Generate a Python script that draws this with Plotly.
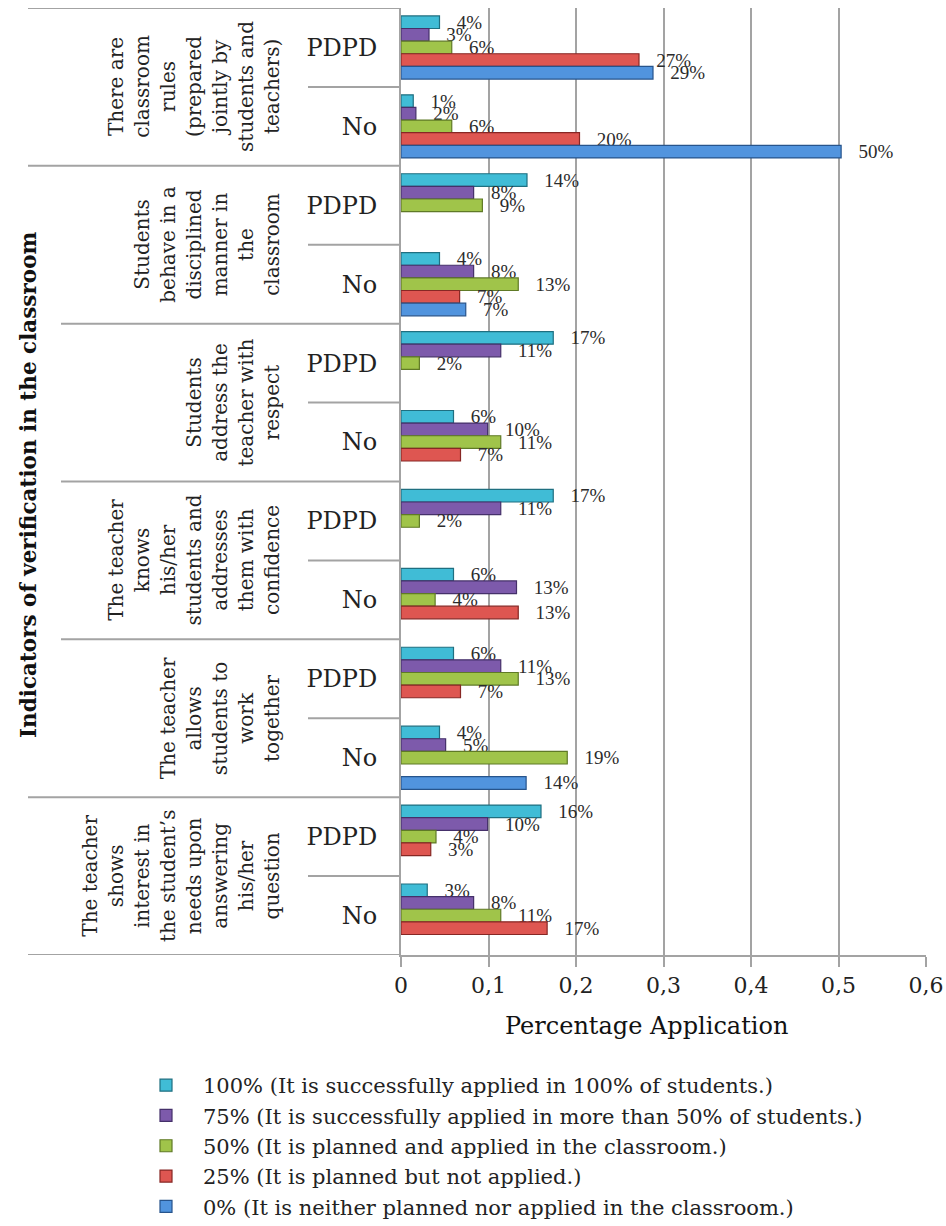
import plotly.graph_objects as go

# ---------------- data ----------------
groups = [
    "There are<br>classroom<br>rules<br>(prepared<br>jointly by<br>students and<br>teachers)",
    "Students<br>behave in a<br>disciplined<br>manner in<br>the<br>classroom",
    "Students<br>address the<br>teacher with<br>respect",
    "The teacher<br>knows<br>his/her<br>students and<br>addresses<br>them with<br>confidence",
    "The teacher<br>allows<br>students to<br>work<br>together",
    "The teacher<br>shows<br>interest in<br>the student\u2019s<br>needs upon<br>answering<br>his/her<br>question",
]
sub_labels = ["PDPD", "No"]

series_names = [
    "100% (It is successfully applied in 100% of students.)",
    "75% (It is successfully applied in more than 50% of students.)",
    "50% (It is planned and applied in the classroom.)",
    "25% (It is planned but not applied.)",
    "0% (It is neither planned nor applied in the classroom.)",
]

# rows top-to-bottom: (group0 PDPD, group0 No, group1 PDPD, ...)
v100 = [0.044, 0.014, 0.144, 0.044, 0.174, 0.060, 0.174, 0.060, 0.060, 0.044, 0.160, 0.030]
v75  = [0.032, 0.017, 0.083, 0.083, 0.114, 0.099, 0.114, 0.132, 0.114, 0.051, 0.099, 0.083]
v50  = [0.058, 0.058, 0.093, 0.134, 0.021, 0.114, 0.021, 0.039, 0.134, 0.190, 0.040, 0.114]
v25  = [0.272, 0.204, None, 0.067, None, 0.068, None, 0.134, 0.068, None, 0.034, 0.167]
v0   = [0.288, 0.503, None, 0.074, None, None, None, None, None, 0.143, None, None]

x_tick_vals = [0, 0.1, 0.2, 0.3, 0.4, 0.5, 0.6]
x_tick_text = ["0", "0,1", "0,2", "0,3", "0,4", "0,5", "0,6"]

# ---------------- styling ----------------
colors = ["#40bcd6", "#7d5aab", "#a0c44a", "#de5651", "#5194de"]
edge_colors = ["#1f6f80", "#45306a", "#5f7a26", "#872724", "#27548c"]

FONT = "DejaVu Serif"
GRID = "#a3a3a3"

W, H = 946, 1226
PL, PR, PT, PB = 401, 926, 8, 955  # plot area in px


def px_x(px):
    return (px - PL) / (PR - PL)


def px_y(py):
    return (PB - py) / (PB - PT)


cat_ids = []
tick_text = []
for gi in range(len(groups)):
    for s in sub_labels:
        cat_ids.append(f"g{gi}-{s}")
        tick_text.append(s)

fig = go.Figure()
all_vals = [v100, v75, v50, v25, v0]
for name, vals, c, ec in zip(series_names, all_vals, colors, edge_colors):
    txt = ["" if v is None else "\u00a0\u00a0\u00a0" + f"{round(v * 100)}%" for v in vals]
    fig.add_trace(go.Bar(
        y=cat_ids, x=vals, name=name, orientation="h",
        marker=dict(color=c, line=dict(color=ec, width=1.2)),
        text=txt, textposition="outside", cliponaxis=False,
        constraintext="none",
        textfont=dict(family="Liberation Serif", size=19, color="#2b2b2b"),
        hoverinfo="x+name",
    ))

shapes = []
# sub dividers between PDPD and No
for gi in range(len(groups)):
    yv = 2 * gi + 0.5
    shapes.append(dict(type="line", xref="paper", yref="y", x0=px_x(308), x1=px_x(PL),
                       y0=yv, y1=yv, line=dict(color=GRID, width=2)))
# group boundaries
bound_starts = [28, 28, 61, 61, 61, 28, 28]
for k, xs in enumerate(bound_starts):
    yv = 2 * k - 0.5
    shapes.append(dict(type="line", xref="paper", yref="y", x0=px_x(xs), x1=px_x(PL),
                       y0=yv, y1=yv, line=dict(color=GRID, width=2)))

annotations = []
for gi, g in enumerate(groups):
    annotations.append(dict(
        text=g, xref="paper", yref="y", x=px_x(286), y=2 * gi + 0.5,
        xanchor="right", yanchor="middle", textangle=-90, showarrow=False,
        align="center", font=dict(family=FONT, size=20, color="#222")))
annotations.append(dict(
    text="<b>Indicators of verification in the classroom</b>", xref="paper", yref="paper",
    x=px_x(28), y=px_y(485), xanchor="center", yanchor="middle", textangle=-90,
    showarrow=False, font=dict(family=FONT, size=21.5, color="#111")))
annotations.append(dict(
    text="Percentage Application", xref="paper", yref="paper",
    x=px_x(646), y=px_y(1026), xanchor="center", yanchor="middle",
    showarrow=False, font=dict(family=FONT, size=24, color="#111")))

fig.update_layout(
    width=W, height=H,
    margin=dict(l=PL, r=W - PR, t=PT, b=H - PB, pad=0, autoexpand=False),
    paper_bgcolor="white", plot_bgcolor="white",
    barmode="group", bargap=0.2, bargroupgap=0,
    showlegend=True,
    legend=dict(
        xref="container", yref="container", x=129 / W, y=1 - 1065 / H,
        xanchor="left", yanchor="top", orientation="v",
        font=dict(family=FONT, size=21, color="#222"),
        bgcolor="rgba(0,0,0,0)", tracegroupgap=0, itemwidth=64,
    ),
    shapes=shapes, annotations=annotations,
    xaxis=dict(
        range=[0, 0.6], tickvals=x_tick_vals, ticktext=x_tick_text,
        showgrid=True, gridcolor=GRID, gridwidth=2, zeroline=False,
        showline=True, linecolor=GRID, linewidth=2,
        ticks="outside", ticklen=10, tickwidth=2, tickcolor=GRID,
        tickfont=dict(family=FONT, size=22, color="#222"),
        automargin=False,
    ),
    yaxis=dict(
        type="category", categoryorder="array", categoryarray=cat_ids,
        range=[len(cat_ids) - 0.5, -0.5],
        tickvals=cat_ids, ticktext=tick_text,
        showgrid=False, zeroline=False,
        showline=True, linecolor=GRID, linewidth=2,
        ticks="", ticklabelstandoff=17,
        tickfont=dict(family=FONT, size=24, color="#222"),
        automargin=False,
    ),
)

fig.write_html("out.html")
